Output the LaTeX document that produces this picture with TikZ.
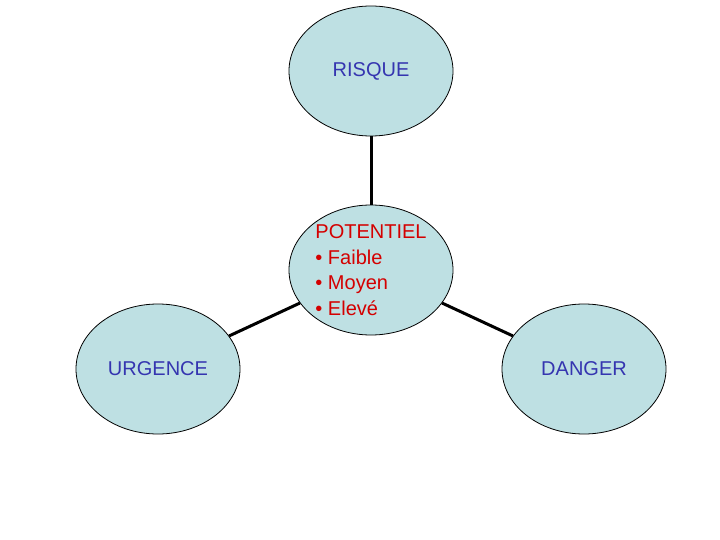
\documentclass[tikz,border=0pt]{standalone}
\usepackage{fontspec}
\setmainfont{Liberation Sans}
\usepackage{tikz}
\usetikzlibrary{shapes.geometric}
\definecolor{bubblefill}{HTML}{BEE0E3}
\definecolor{labelblue}{HTML}{3535B0}
\definecolor{labelred}{HTML}{D40000}

\begin{document}
\begin{tikzpicture}[
x=1pt,y=-1pt,
bubble/.style={ellipse,draw,fill=bubblefill,line width=0.8pt,
minimum width=164pt,minimum height=130pt,inner sep=0pt,
font=\fontsize{20}{25.5}\selectfont,text=labelblue},
link/.style={line width=3pt}
]
\useasboundingbox (0,0) rectangle (720,540);
\node[bubble] (risk) at (371,71)  {RISQUE};
\node[bubble,text=labelred,align=left] (pot) at (371,270)
{POTENTIEL\\• Faible\\• Moyen\\• Elevé};
\node[bubble] (urg) at (158,369) {URGENCE};
\node[bubble] (dng) at (584,369) {DANGER};

\foreach \a/\b in {risk/pot,pot/urg,pot/dng} \draw[link] (\a) -- (\b);
\end{tikzpicture}
\end{document}
